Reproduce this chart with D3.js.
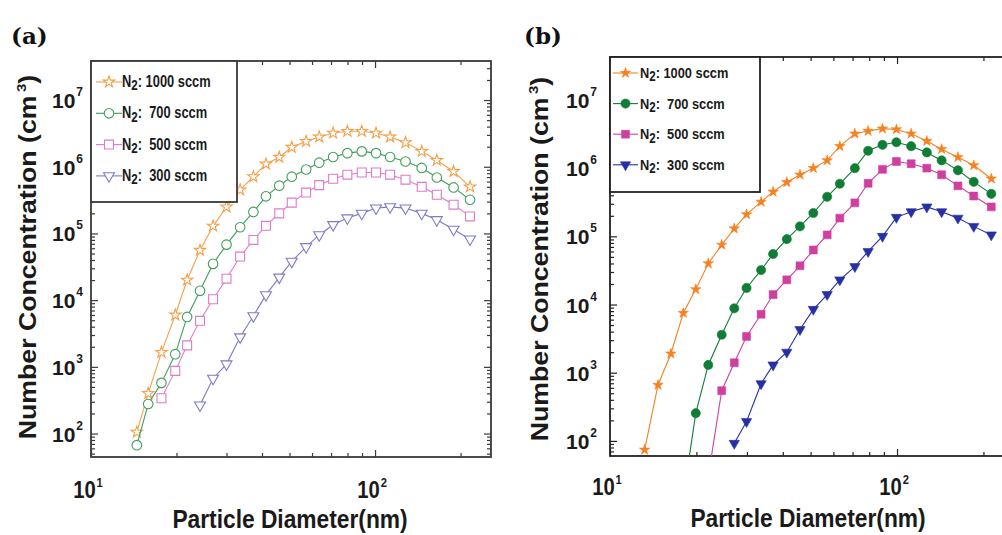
<!DOCTYPE html>
<html><head><meta charset="utf-8">
<script src="https://cdn.jsdelivr.net/npm/d3@7"></script>
<style>
body{margin:0;background:#fff;}
svg{display:block;font-family:"Liberation Sans",Arial,sans-serif;}
text{white-space:pre;}
</style>
</head><body>
<svg id="c" width="1002" height="535"></svg>
<script>
// ---------- data: panel (a) ----------
const diamA = [14.5, 15.9, 17.7, 19.8, 21.8, 24.2, 26.9, 30.0, 33.5, 37.3, 41.3, 46.0, 50.9, 57.2, 63.6, 71.2, 79.9, 89.8, 100.8, 113, 128, 146, 165, 189, 216];
const a1000 = [105, 400, 1650, 6000, 2.0e4, 5.6e4, 1.29e5, 2.5e5, 4.5e5, 7.1e5, 1.1e6, 1.39e6, 1.96e6, 2.4e6, 2.8e6, 3.2e6, 3.4e6, 3.4e6, 3.2e6, 2.8e6, 2.3e6, 1.7e6, 1.25e6, 8.5e5, 5.0e5];
const a700  = [67, 277, 575, 1550, 5600, 1.38e4, 3.5e4, 6.8e4, 1.24e5, 2.1e5, 3.6e5, 5.2e5, 7.1e5, 9.1e5, 1.15e6, 1.4e6, 1.6e6, 1.7e6, 1.6e6, 1.4e6, 1.2e6, 9.6e5, 6.9e5, 4.9e5, 3.2e5];
const a500  = [null, null, 338, 870, 2100, 4900, 1.03e4, 2.1e4, 4.5e4, 8.0e4, 1.3e5, 2.0e5, 2.9e5, 4.1e5, 5.3e5, 6.6e5, 7.6e5, 8.2e5, 8.2e5, 7.6e5, 6.4e5, 5.0e5, 3.8e5, 2.7e5, 1.8e5];
const a300  = [null, null, null, null, null, 267, 670, 1100, 2800, 5800, 1.2e4, 2.2e4, 3.8e4, 6.3e4, 9.5e4, 1.35e5, 1.7e5, 2.0e5, 2.4e5, 2.5e5, 2.4e5, 2.0e5, 1.6e5, 1.15e5, 8.2e4];

// ---------- data: panel (b) ----------
const diamB = [13.2, 14.7, 16.3, 18.0, 19.9, 22.0, 24.5, 27.1, 29.9, 33.6, 37.0, 41.3, 45.9, 51.1, 57.1, 63.2, 71.3, 79.3, 89.0, 99.5, 112, 127, 143, 163, 185, 213];
const b1000 = [74, 660, 1900, 7500, 1.67e4, 4.0e4, 7.5e4, 1.3e5, 2.1e5, 3.2e5, 4.5e5, 6.2e5, 8.0e5, 1.0e6, 1.3e6, 2.1e6, 3.2e6, 3.5e6, 3.8e6, 3.7e6, 3.2e6, 2.5e6, 1.9e6, 1.45e6, 1.1e6, 7.0e5];
const b700  = [null, null, null, 15, 255, 1300, 3600, 8800, 1.75e4, 3.2e4, 5.5e4, 9.1e4, 1.4e5, 2.2e5, 3.8e5, 5.9e5, 1.0e6, 1.8e6, 2.2e6, 2.4e6, 2.1e6, 1.7e6, 1.3e6, 9.3e5, 6.3e5, 4.2e5];
const b500  = [null, null, null, null, null, 30, 545, 1400, 3400, 7200, 1.4e4, 2.3e4, 3.7e4, 6.3e4, 1.05e5, 1.85e5, 3.1e5, 6.0e5, 9.6e5, 1.25e6, 1.16e6, 1.0e6, 8.0e5, 5.5e5, 3.9e5, 2.7e5];
const b300  = [null, null, null, null, null, null, null, 92, 192, 690, 1300, 2000, 4300, 8500, 1.4e4, 2.3e4, 3.6e4, 6.0e4, 1.0e5, 1.9e5, 2.3e5, 2.7e5, 2.3e5, 1.85e5, 1.4e5, 1.05e5];

// ---------- labels / ticks ----------
const flowRates = ["1000", "700", "500", "300"];
const xMajorTicks = [10, 100];
const xMinorTicks = [20, 30, 40, 50, 60, 70, 80, 90, 200];
const yMajorTicks = [1e2, 1e3, 1e4, 1e5, 1e6, 1e7];
const xTitle = "Particle Diameter(nm)";
const yTitle = "Number Concentration (cm";
const panelLabels = ["(a)", "(b)"];

const svg = d3.select("#c");

function yMinorFor(dom) {
  const out = [];
  for (let e = 1; e <= 7; e++) for (let m = 2; m <= 9; m++) {
    const v = m * Math.pow(10, e);
    if (v > dom[0] && v < dom[1]) out.push(v);
  }
  return out;
}

function drawPanel(cfg) {
  const x = d3.scaleLog().domain(cfg.xDom).range(cfg.xRange);
  const y = d3.scaleLog().domain(cfg.yDom).range(cfg.yRange);
  const L = cfg.xRange[0], R = cfg.xRange[1], T = cfg.yRange[1], B = cfg.yRange[0];
  const g = svg.append("g");

  svg.append("clipPath").attr("id", "clip" + cfg.name)
    .append("rect").attr("x", L).attr("y", T).attr("width", R - L).attr("height", B - T);

  const tickCol = cfg.frameColor;
  const yMinor = yMinorFor(cfg.yDom);
  const axes = [
    [d3.axisBottom(x).tickValues(xMajorTicks).tickSize(-7), `translate(0,${B})`],
    [d3.axisBottom(x).tickValues(xMinorTicks).tickSize(-4), `translate(0,${B})`],
    [d3.axisTop(x).tickValues(xMajorTicks).tickSize(-7), `translate(0,${T})`],
    [d3.axisTop(x).tickValues(xMinorTicks).tickSize(-4), `translate(0,${T})`],
    [d3.axisLeft(y).tickValues(yMajorTicks).tickSize(-7), `translate(${L},0)`],
    [d3.axisLeft(y).tickValues(yMinor).tickSize(-4), `translate(${L},0)`],
    [d3.axisRight(y).tickValues(yMajorTicks).tickSize(-7), `translate(${R},0)`],
    [d3.axisRight(y).tickValues(yMinor).tickSize(-4), `translate(${R},0)`]
  ];
  axes.forEach(([ax, tr]) => {
    const a = g.append("g").attr("transform", tr).call(ax.tickFormat(""));
    a.select(".domain").remove();
    a.selectAll("line").attr("stroke", tickCol).attr("stroke-width", 1.2);
  });

  g.append("rect").attr("x", L).attr("y", T).attr("width", R - L).attr("height", B - T)
    .attr("fill", "none").attr("stroke", cfg.frameColor).attr("stroke-width", 1.8);

  const dg = g.append("g").attr("clip-path", `url(#clip${cfg.name})`);
  cfg.series.forEach(s => {
    const pts = cfg.diam.map((d, i) => ({d, v: s.values[i]})).filter(p => p.v != null);
    dg.append("path").datum(pts)
      .attr("fill", "none").attr("stroke", s.color).attr("stroke-width", 1.1)
      .attr("d", d3.line().x(p => x(p.d)).y(p => y(p.v)));
    dg.selectAll(null).data(pts).enter().append("path")
      .attr("transform", p => `translate(${x(p.d)},${y(p.v)})${s.rot ? " rotate(180)" : ""}`)
      .attr("d", d3.symbol().type(s.sym).size(s.size))
      .attr("fill", cfg.filled ? s.color : "#fff")
      .attr("stroke", s.color).attr("stroke-width", cfg.filled ? 0.6 : 1.1);
  });

  const lg = cfg.legend;
  g.append("rect").attr("x", L).attr("y", T).attr("width", lg.right - L).attr("height", lg.bottom - T)
    .attr("fill", "#fff").attr("stroke", cfg.frameColor).attr("stroke-width", 1.8);
  cfg.series.forEach((s, i) => {
    const yy = lg.y0 + i * lg.dy;
    g.append("line").attr("x1", lg.lx0).attr("x2", lg.lx1).attr("y1", yy).attr("y2", yy)
      .attr("stroke", s.color).attr("stroke-width", 1.1);
    g.append("path").attr("transform", `translate(${(lg.lx0 + lg.lx1) / 2},${yy})${s.rot ? " rotate(180)" : ""}`)
      .attr("d", d3.symbol().type(s.sym).size(s.size))
      .attr("fill", cfg.filled ? s.color : "#fff")
      .attr("stroke", s.color).attr("stroke-width", cfg.filled ? 0.6 : 1.1);
    const t = g.append("text")
      .attr("transform", `translate(${lg.tx},${yy + 5}) scale(${lg.sx},1.15)`)
      .attr("font-size", lg.fs).attr("font-weight", "bold").attr("fill", "#1a1a1a");
    t.append("tspan").text("N");
    t.append("tspan").attr("font-size", lg.fs * 0.9).attr("dy", 3).text("2");
    t.append("tspan").attr("dy", -3).text(lg.colon + " " + flowRates[i].padStart(4, " ") + " sccm");
  });

  const tickLab = (px, py, exp, anchor, fs, sx, supDx, supDy) => {
    const t = g.append("text").attr("transform", `translate(${px},${py}) scale(${sx},1)`)
      .attr("text-anchor", anchor).attr("font-size", fs).attr("font-weight", "bold").attr("fill", "#1a1a1a");
    t.append("tspan").text("10");
    t.append("tspan").attr("font-size", fs * 0.55).attr("dx", supDx).attr("dy", supDy).text(String(exp));
  };
  xMajorTicks.forEach(v => tickLab(x(v) - 3, cfg.xLabY, Math.round(Math.log10(v)), "middle", 23, 0.88, 1, -11));
  yMajorTicks.forEach(v => {
    const t = g.append("text").attr("transform", `translate(${cfg.yLabX},${y(v) + 8})`)
      .attr("font-size", 21).attr("font-weight", "bold").attr("fill", "#1a1a1a").attr("text-anchor", "end");
    t.append("tspan").text("10");
    t.append("tspan").attr("font-size", 12).attr("dx", 1).attr("dy", -12).text(String(Math.round(Math.log10(v))));
  });

  g.append("text").attr("transform", `translate(${(cfg.xTitleX)},${cfg.xTitleY}) scale(0.99,1.1)`)
    .attr("text-anchor", "middle").attr("font-size", 23).attr("font-weight", "bold").attr("fill", "#1a1a1a")
    .text(xTitle);
  const yt = g.append("text").attr("transform", `translate(${cfg.yTitleX},${cfg.yTitleY}) rotate(-90) scale(1.16,1)`)
    .attr("text-anchor", "middle").attr("font-size", 23).attr("font-weight", "bold").attr("fill", "#1a1a1a");
  yt.append("tspan").text(yTitle);
  yt.append("tspan").attr("font-size", 13).attr("dx", 3).attr("dy", -10).text("3");
  yt.append("tspan").attr("dy", 10).text(")");

  svg.append("text").attr("x", cfg.pl[0]).attr("y", cfg.pl[1])
    .attr("font-family", "'DejaVu Serif', serif").attr("font-weight", "bold").attr("font-size", 23)
    .attr("fill", "#111").text(cfg.plText);
}

drawPanel({
  name: "A", plText: panelLabels[0], pl: [11, 44],
  xDom: [10, 256], xRange: [91, 491],
  yDom: [44.5, 3.85e7], yRange: [457, 61],
  diam: diamA, filled: false, frameColor: "#3a3a3a",
  series: [
    {values: a1000, color: "#f4a04a", sym: d3.symbolStar, size: 40},
    {values: a700,  color: "#3f9e5c", sym: d3.symbolCircle, size: 72},
    {values: a500,  color: "#e07ac8", sym: d3.symbolSquare, size: 80},
    {values: a300,  color: "#7b7bc8", sym: d3.symbolTriangle, size: 52, rot: true}
  ],
  legend: {right: 237, bottom: 202, y0: 82, dy: 31.3, lx0: 96, lx1: 122, tx: 122, fs: 14, sx: 0.92, colon: ":"},
  xLabY: 498, yLabX: 83,
  xTitleX: 290, xTitleY: 528, yTitleX: 36, yTitleY: 257
});

drawPanel({
  name: "B", plText: panelLabels[1], pl: [524, 44],
  xDom: [10, 257], xRange: [610, 1014.7],
  yDom: [60, 4.27e7], yRange: [456, 57],
  diam: diamB, filled: true, frameColor: "#222",
  series: [
    {values: b1000, color: "#f58220", sym: d3.symbolStar, size: 34},
    {values: b700,  color: "#0f7d36", sym: d3.symbolCircle, size: 66},
    {values: b500,  color: "#cf3fa0", sym: d3.symbolSquare, size: 62},
    {values: b300,  color: "#2630a6", sym: d3.symbolTriangle, size: 46, rot: true}
  ],
  legend: {right: 760, bottom: 192, y0: 73, dy: 30.6, lx0: 613, lx1: 638, tx: 640, fs: 13.5, sx: 0.95, colon: ":"},
  xLabY: 495, yLabX: 597,
  xTitleX: 808, xTitleY: 527, yTitleX: 548, yTitleY: 259
});
</script>
</body></html>
